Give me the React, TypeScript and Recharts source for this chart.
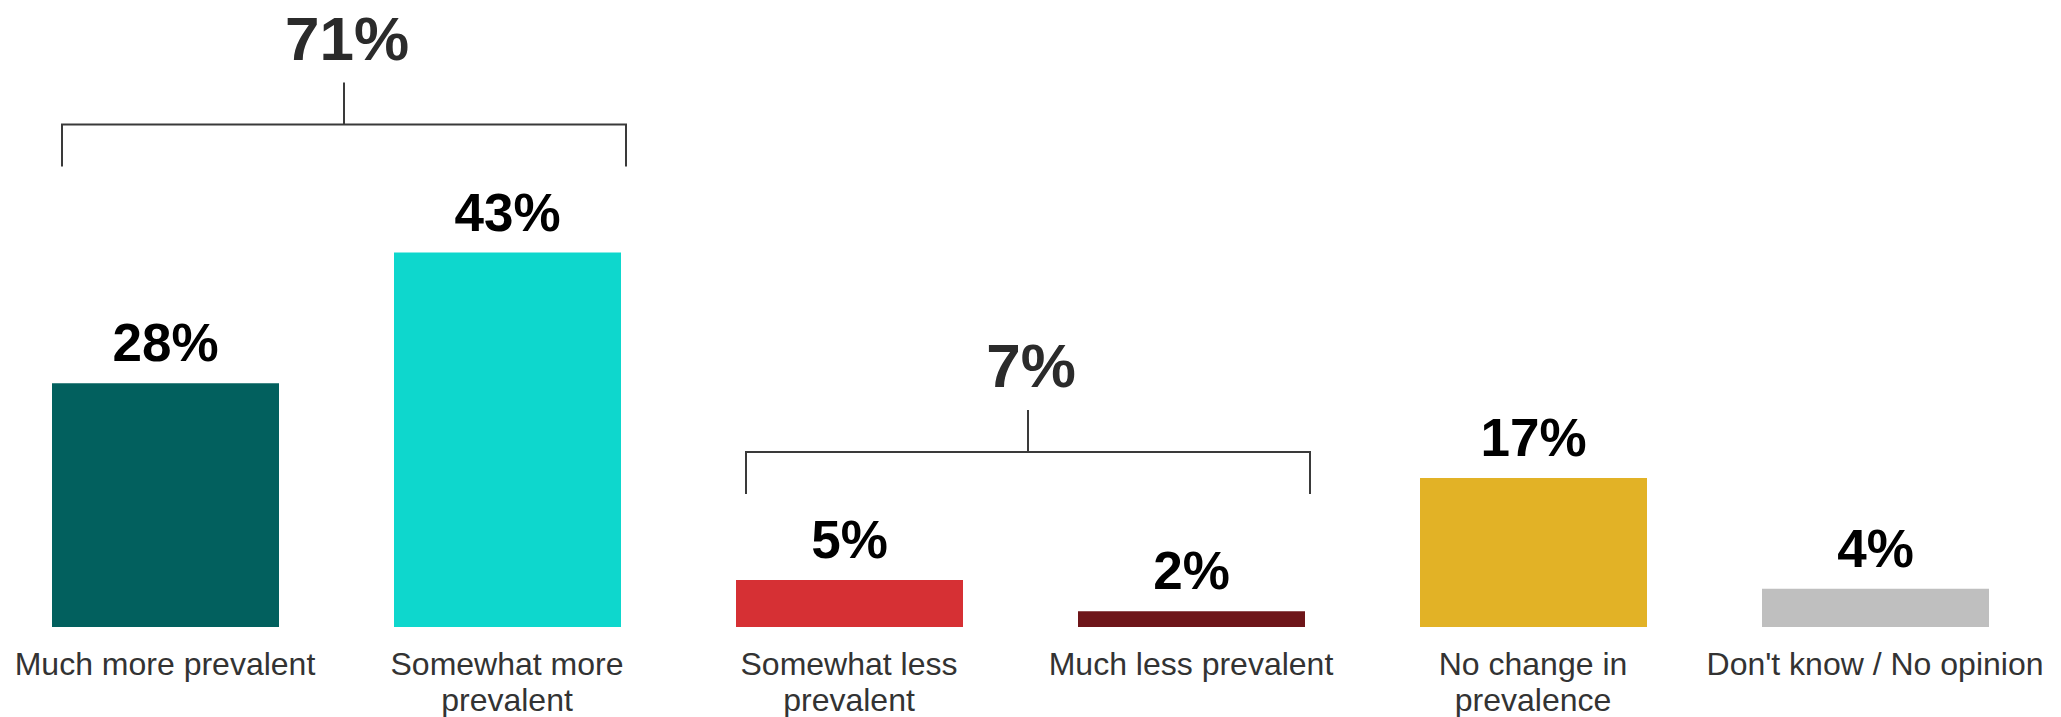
import React from 'react'
import { BarChart, Bar, XAxis, YAxis, Cell, LabelList } from 'recharts'

const categories = [
  'Much more prevalent',
  'Somewhat more\nprevalent',
  'Somewhat less\nprevalent',
  'Much less prevalent',
  'No change in\nprevalence',
  "Don't know / No opinion"
]
const shares = [28, 43, 5.4, 1.8, 17.1, 4.4]
const barColors = ['#02605e', '#0ed7cd', '#d63034', '#6e1519', '#e2b226', '#bfbfbf']
// bracketed pairs: first category index of the pair and the combined share
const bracketStarts = [0, 2]
const bracketTotals = [71, 7]

const FONT = '"Liberation Sans", Arial, sans-serif'
const CHART_W = 2052
const CHART_H = 717
const AXIS_H = 90
const BAND = CHART_W / categories.length

const data = categories.map((name, i) => ({ name, share: shares[i], color: barColors[i] }))

const CategoryTick = (props: any) => {
  const { x, y, payload } = props
  const lines = String(payload.value).split('\n')
  return (
    <g>
      {lines.map((line, i) => (
        <text
          key={i}
          x={x}
          y={y + 40 + i * 36}
          textAnchor="middle"
          fontSize={32}
          fill="#333333"
          fontFamily={FONT}
        >
          {line}
        </text>
      ))}
    </g>
  )
}

const ValueLabel = (props: any) => {
  const x = Number(props.x)
  const y = Number(props.y)
  const width = Number(props.width)
  const height = Number(props.height)
  const value = Number(props.value)
  const index = props.index
  const b = bracketStarts.indexOf(index)

  let bracket = null
  if (b >= 0) {
    const base = y + height
    const pxPerUnit = height / value
    const tallest = Math.max(shares[index], shares[index + 1])
    const top = base - tallest * pxPerUnit
    const legBottom = top - 86
    const horiz = legBottom - 42
    const stemTop = horiz - 42
    const left = x + 10
    const right = x + BAND + width + 5
    const mid = (left + right) / 2
    bracket = (
      <g>
        <path
          d={`M${left},${legBottom} V${horiz} H${right} V${legBottom} M${mid},${horiz} V${stemTop}`}
          fill="none"
          stroke="#3a3a3a"
          strokeWidth={2}
        />
        <text
          x={mid + 3}
          y={stemTop - 23}
          textAnchor="middle"
          fontSize={62}
          fontWeight={700}
          fill="#2b2b2b"
          fontFamily={FONT}
        >
          {bracketTotals[b]}%
        </text>
      </g>
    )
  }

  return (
    <g>
      <text
        x={x + width / 2}
        y={y - 22}
        textAnchor="middle"
        fontSize={53}
        fontWeight={700}
        fill="#000000"
        fontFamily={FONT}
      >
        {Math.round(value)}%
      </text>
      {bracket}
    </g>
  )
}

export default function App() {
  return (
    <div style={{ position: 'absolute', left: 0, top: 0, width: 2061, height: CHART_H, background: '#fff', overflow: 'hidden' }}>
      <div style={{ position: 'absolute', left: -6, top: 0 }}>
        <BarChart
          width={CHART_W}
          height={CHART_H}
          data={data}
          margin={{ top: 0, right: 0, bottom: 0, left: 0 }}
          barCategoryGap={0}
        >
          <XAxis
            dataKey="name"
            height={AXIS_H}
            axisLine={false}
            tickLine={false}
            interval={0}
            tick={<CategoryTick />}
          />
          <YAxis hide domain={[0, 72]} />
          <Bar dataKey="share" barSize={227} isAnimationActive={false}>
            {data.map((r, i) => (
              <Cell key={i} fill={r.color} />
            ))}
            <LabelList dataKey="share" content={<ValueLabel />} />
          </Bar>
        </BarChart>
      </div>
    </div>
  )
}
